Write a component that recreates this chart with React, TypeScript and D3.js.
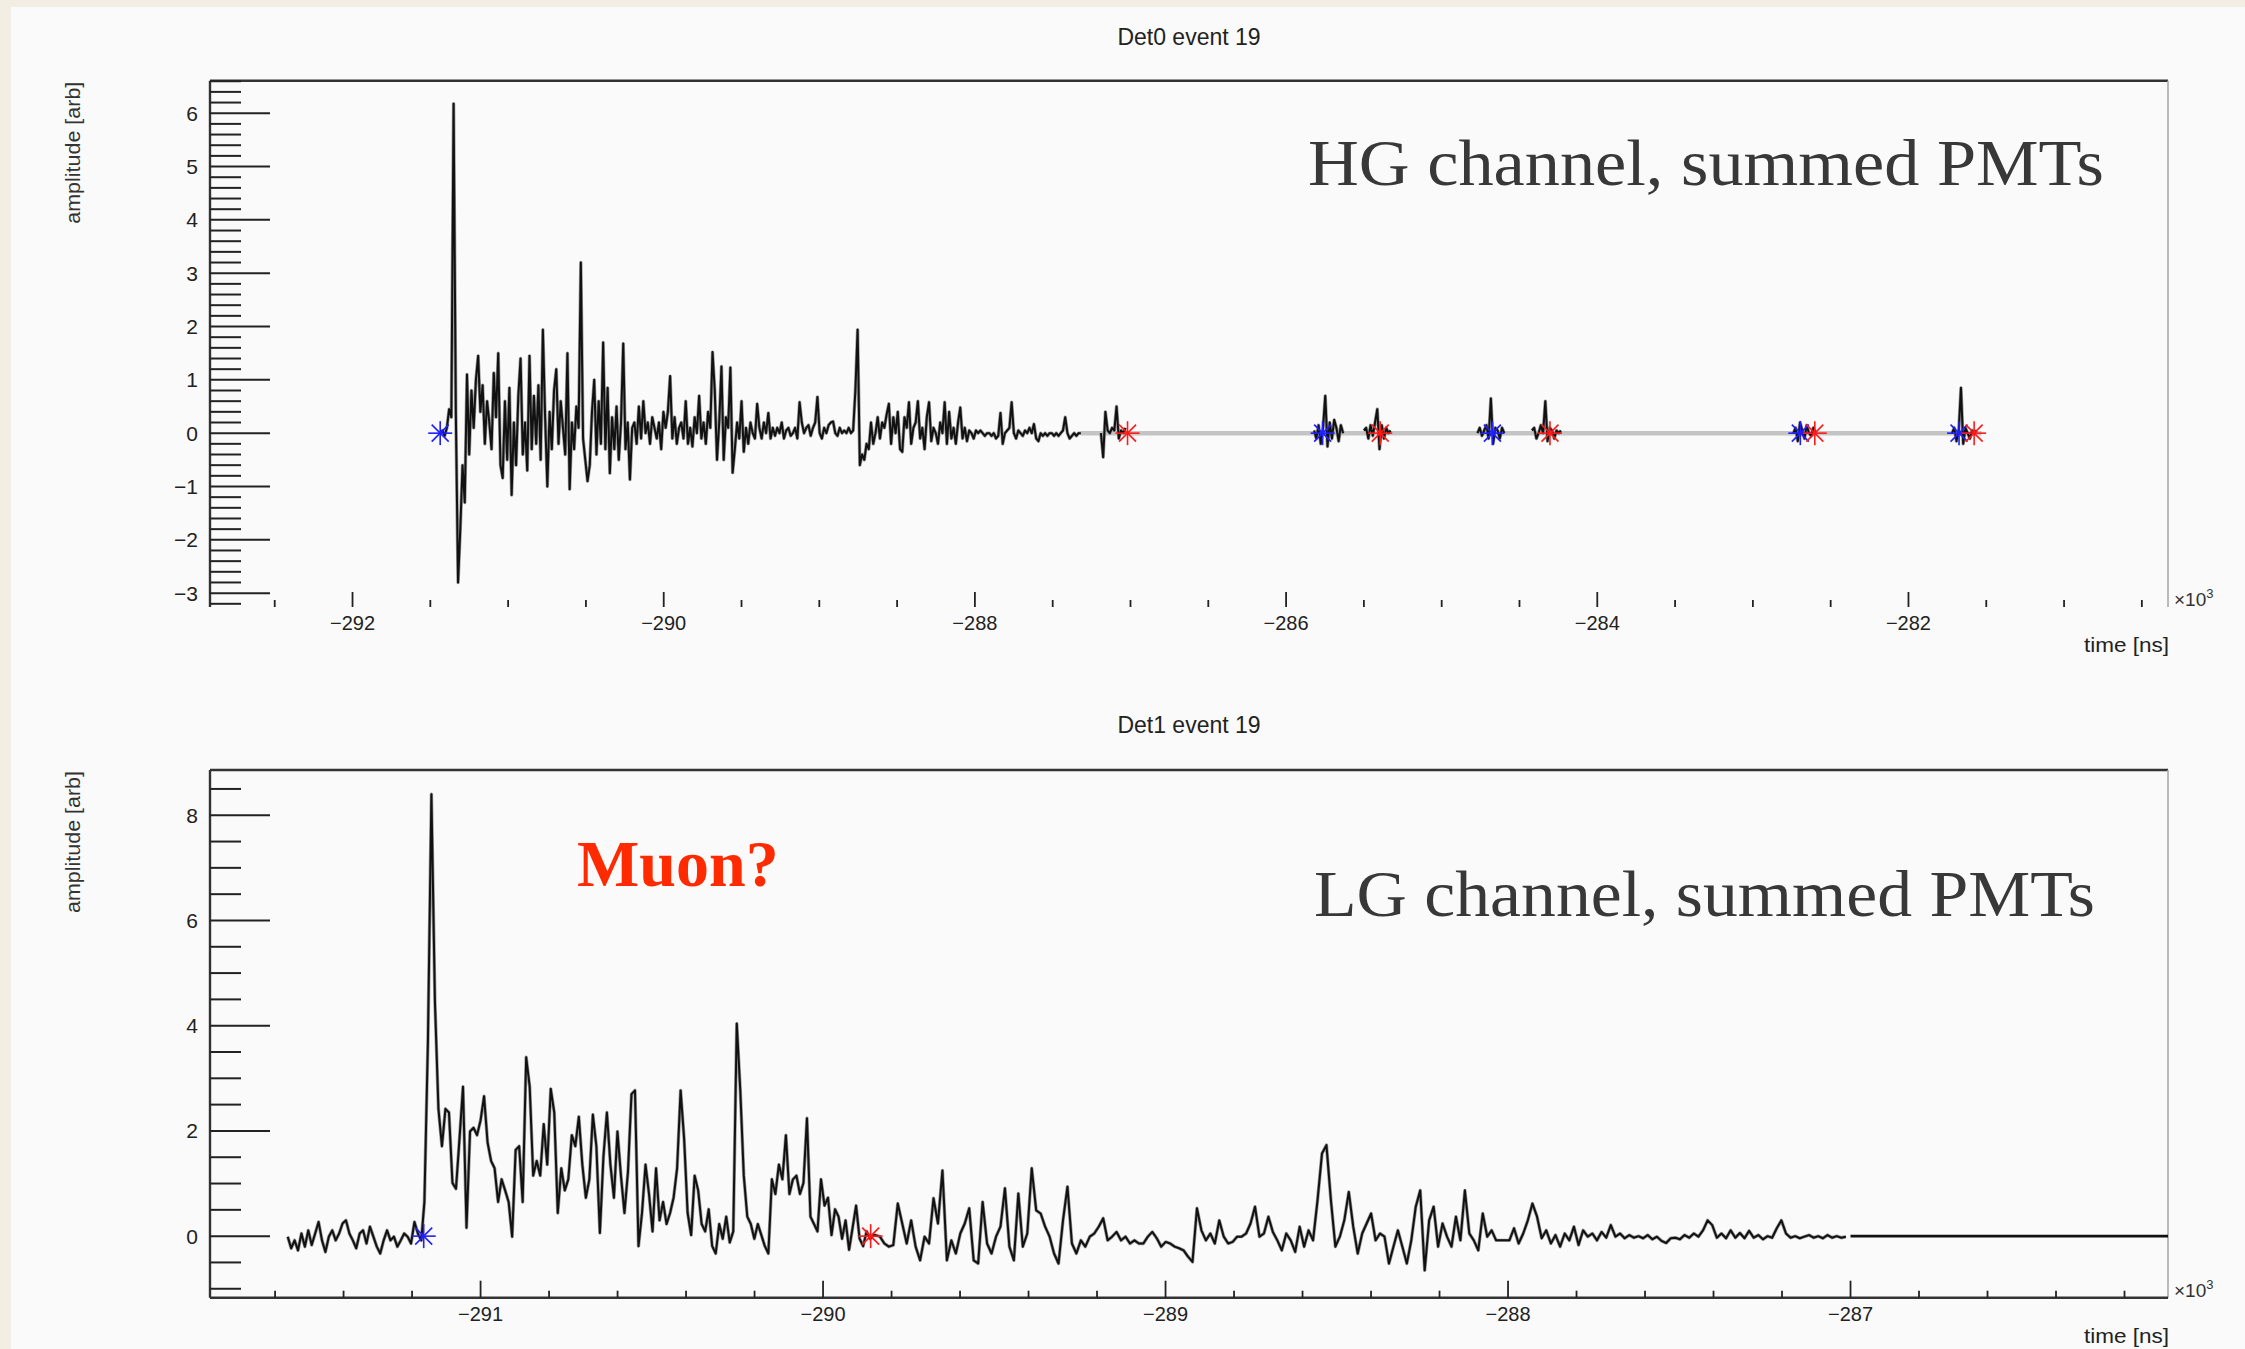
import React from 'react';
import * as d3 from 'd3';

const W = 2245;
const H = 1349;

// ---------- Det0 (HG channel) ----------
const hgT0 = -291.4365; // x10^3 ns
const hgDt = 0.014346;
const hgMain = [
  0, 0.05, -0.05, 0.1, 0.45, 0.3, 6.18, 0.4, -2.8, -1.8, -0.6, -1.3, 1.1, -0.4, 0.8, 0.1, 1.0, 1.45, 0.4, 0.9,
  -0.2, 0.6, 0.2, -0.3, 1.13, 0.3, 1.5, -0.6, -0.84, 0.6, -0.5, 0.85, -1.16, 0.2, -0.6, 0.7, 1.4, -0.4, 0.2, -0.7,
  1.45, -0.3, 0.7, -0.2, 0.9, -0.5, 1.94, 0.3, -1.0, 0.4, -0.3, 0.8, 1.2, -0.2, 0.6, 0.1, -0.4, 1.5, -1.05, 0.2,
  -0.3, 0.5, 0.1, 3.2, -0.1, -0.5, -0.9, -0.6, 0.4, 1.0, -0.4, 0.6, -0.2, 1.7, -0.3, 0.85, -0.75, 0.3, -0.3, 0.5,
  -0.5, 0.2, 1.68, -0.3, 0.2, -0.87, 0.1, 0.2, -0.2, 0.5, -0.1, 0.6, 0.0, 0.2, -0.2, 0.3, 0.1, -0.1, 0.2, -0.3,
  0.4, 0.1, 0.4, 1.07, -0.1, 0.3, -0.2, 0.1, 0.2, -0.1, 0.6, -0.2, 0.1, -0.25, 0.3, 0.0, 0.7, -0.1, 0.2, -0.2,
  0.4, 0.1, 1.52, 0.8, -0.5, 0.2, 1.25, -0.5, 0.3, 0.1, 1.23, -0.74, -0.3, 0.2, -0.1, 0.6, -0.35, 0.1, -0.2, 0.2,
  0.0, -0.1, 0.55, 0.1, -0.1, 0.2, 0.0, 0.38, -0.1, 0.1, -0.05, 0.1, 0.0, 0.2, -0.1, 0.05, 0.1, -0.05, 0.0, 0.1,
  -0.1, 0.58, 0.2, 0.0, 0.1, 0.15, -0.05, 0.1, 0.2, 0.68, 0.0, -0.1, 0.1, 0.0, 0.15, 0.2, 0.22, 0.0, -0.05, 0.1,
  0.0, 0.05, 0.0, 0.1, 0.0, 0.05, 0.8, 1.94, -0.6, -0.4, -0.5, -0.2, -0.3, 0.2, -0.2, 0.0, 0.3, -0.1, 0.2, 0.1,
  0.35, 0.55, -0.2, 0.3, 0.0, 0.4, -0.3, -0.35, 0.3, 0.1, 0.58, -0.2, 0.1, 0.2, 0.6, -0.1, 0.1, -0.3, 0.3, 0.58,
  -0.15, 0.1, 0.0, -0.2, 0.2, 0.0, 0.58, -0.2, 0.4, -0.1, 0.1, -0.2, 0.2, 0.48, -0.1, 0.1, -0.15, 0.05, 0.0, -0.1,
  0.05, 0.0, 0.05, 0.0, -0.05, 0.0, 0.0, -0.05, 0.0, -0.1, -0.05, 0.38, -0.2, 0.0, 0.05, 0.1, 0.58, 0.0, -0.1, 0.05,
  0.0, -0.05, 0.05, 0.0, 0.1, 0.0, 0.17, -0.1, -0.15, 0.0, -0.05, 0.0, -0.05, 0.0, 0.0, -0.05, 0.0, -0.05, 0.0, 0.05,
  0.3, 0.0, -0.1, -0.05, 0.0, -0.05, 0.0, 0.0,
];
const hgBurstStarts = [-287.19, -285.82, -285.5, -284.77, -284.42, -282.74, -281.72];
const hgBurst1 = [0, -0.45, 0.4, 0.05, 0.0, 0.1, 0.05, 0.5, -0.1, 0.05, 0.0, 0.1];
const hgBurst2 = [0.05, -0.1, 0.15, -0.2, 0.1, 0.7, -0.25, 0.2, -0.1, 0.25, 0.1, -0.15, 0.15, 0.0];
const hgBurst3 = [0.05, 0.1, -0.1, 0.15, -0.05, 0.2, 0.45, -0.3, 0.15, -0.1, 0.1, 0.0, 0.05];
const hgBurst4 = [0.0, 0.1, -0.05, 0.05, 0.15, -0.1, 0.65, -0.2, 0.1, 0.05, -0.1, 0.1, 0.0];
const hgBurst5 = [0.05, 0.1, -0.1, 0.0, 0.15, 0.0, 0.6, -0.15, 0.1, 0.05, -0.1, 0.05, 0.0, 0.05];
const hgBurst6 = [0.0, 0.1, -0.15, 0.2, 0.05, -0.1, 0.15, 0.0, -0.05, 0.1, 0.0];
const hgBurst7 = [0.0, 0.1, -0.15, 0.05, 0.85, -0.2, 0.1, 0.0, -0.1, 0.05, 0.0, 0.05];
const hgBursts = [hgBurst1, hgBurst2, hgBurst3, hgBurst4, hgBurst5, hgBurst6, hgBurst7];
const hgGrayBaseline = [-287.32, -281.53];
const hgStartMarks = [-291.4365, -285.765, -284.674, -282.695, -281.675];
const hgStopMarks = [-287.019, -285.395, -284.304, -282.602, -281.578];

// ---------- Det1 (LG channel) ----------
const lgPreT0 = -291.563;
const lgPreDt = 0.01;
const lgPre = [
  -0.01, -0.23, -0.08, -0.27, 0.05, -0.2, 0.11, -0.17, 0.05, 0.27, -0.08, -0.3, -0.01, 0.11, -0.08, 0.05, 0.24, 0.3, 0.05, -0.08,
  -0.23, 0.05, 0.11, -0.14, 0.18, -0.01, -0.2, -0.33, -0.08, 0.11, -0.08, -0.01, -0.2, -0.08, 0.05, -0.01, -0.14, 0.27, 0.05, -0.08,
];
const lgMainT0 = -291.164;
const lgMainDt = 0.010248;
const lgMain = [
  0.65, 3.68, 8.4, 4.46, 2.42, 1.71, 2.42, 2.35, 1.01, 0.9, 1.85, 2.84, 0.16, 1.99, 2.06, 1.92, 2.2, 2.66, 1.78, 1.43,
  1.29, 0.65, 1.08, 0.87, 0.65, -0.01, 1.64, 1.71, 0.65, 3.4, 2.84, 1.15, 1.43, 1.15, 2.13, 1.36, 2.8, 2.35, 0.44, 1.29,
  0.87, 1.08, 1.92, 1.71, 2.27, 1.36, 0.73, 1.08, 2.31, 1.71, 0.06, 1.5, 2.35, 1.36, 0.73, 1.99, 1.15, 0.44, 1.22, 2.7,
  2.77, -0.19, 0.44, 1.36, 0.8, 0.09, 1.29, 0.3, 0.65, 0.23, 0.44, 0.73, 1.29, 2.77, 1.85, 0.44, 0.02, 1.15, 0.87, 0.23,
  0.09, 0.51, -0.19, -0.33, 0.23, -0.05, 0.37, -0.12, 0.09, 4.04, 2.77, 1.15, 0.37, 0.23, -0.05, 0.23, 0.02, -0.19, -0.33, 1.08,
  0.8, 1.36, 1.08, 1.92, 0.8, 1.08, 1.15, 0.8, 1.01, 2.24, 0.37, 0.23, 0.09, 1.08, 0.58, 0.73, 0.02, 0.51, 0.37, -0.05,
  0.3, -0.26, 0.16, 0.58, -0.05, -0.19, 0.09, -0.05, 0.02,
];
const lgMidT0 = -289.847;
const lgMidDt = 0.013038;
const lgMid = [
  0.02, -0.01, -0.14, -0.2, -0.17, 0.62, 0.24, -0.14, 0.3, -0.2, -0.46, -0.01, -0.14, 0.72, 0.24, 1.25, -0.46, -0.08, -0.33, 0.05,
  0.24, 0.53, -0.46, -0.52, 0.65, -0.14, -0.33, -0.01, 0.18, 0.91, -0.2, -0.46, 0.81, -0.2, 0.05, 1.29, 0.49, 0.43, 0.18, -0.01,
  -0.33, -0.52, 0.3, 0.94, -0.14, -0.33, -0.08, -0.2, -0.01, 0.05, 0.18, 0.34, -0.08, -0.01, 0.08, -0.08, -0.01, -0.14, -0.08, -0.14,
  -0.14, -0.01, 0.08, -0.04, -0.2, -0.11, -0.14, -0.2, -0.23, -0.27, -0.39, -0.49, 0.53, 0.11, -0.08, 0.05, -0.14, 0.3, -0.01, -0.14,
  -0.11, -0.01, -0.01, 0.05, 0.24, 0.56, -0.01, 0.05, 0.37, 0.08, -0.08, -0.27, 0.05, -0.08, -0.3, 0.18, -0.2, 0.11, -0.08, 0.68,
  1.57, 1.73, 0.68, -0.2, -0.01, 0.3, 0.84, 0.18, -0.33, 0.05, 0.24, 0.43, -0.08, 0.05, -0.01, -0.52, -0.2, 0.11, -0.2, -0.52,
  -0.08, 0.56, 0.87, -0.65, 0.3, 0.56, -0.2, 0.24, -0.01, -0.2, 0.37, -0.08, 0.87, 0.05, -0.08, -0.27, 0.43, -0.01, 0.11, -0.08,
];
const lgTailT0 = -287.996;
const lgTailDt = 0.01346;
const lgTail = [
  -0.08, 0.15, -0.14, 0.05, 0.3, 0.62, 0.37, -0.04, 0.11, -0.14, 0.02, -0.2, 0.05, -0.08, 0.18, -0.17, 0.11, -0.01, 0.05, -0.08,
  0.08, -0.03, 0.21, -0.01, 0.05, -0.04, 0.02, -0.03, 0, -0.04, 0.02, -0.06, -0.01, -0.09, -0.13, -0.04, -0.03, -0.06, 0.02, -0.03,
  0.05, -0.01, 0.11, 0.3, 0.21, -0.03, 0.05, -0.04, 0.11, -0.03, 0.06, -0.04, 0.1, -0.03, 0.02, -0.06, 0, -0.03, 0.15, 0.3,
  0.05, -0.03, 0, -0.04, -0.01, 0.02, -0.03, 0, -0.04, 0.02, -0.03, 0, -0.03, -0.01,
];
const lgFlat = [-287.0, -286.073];
const lgStartMarks = [-291.166];
const lgStopMarks = [-289.861];

// ---------- axes ----------
const topXMajor = [-292, -290, -288, -286, -284, -282];
const topYMajor = [-3, -2, -1, 0, 1, 2, 3, 4, 5, 6];
const botXMajor = [-291, -290, -289, -288, -287];
const botYMajor = [0, 2, 4, 6, 8];

const seg = (t0: number, dt: number, vals: number[]) => vals.map((v, i) => [t0 + i * dt, v] as [number, number]);
const fmt = (v: number) => (v < 0 ? '\u2212' + Math.abs(v) : String(v));

const AX_FONT = 'Liberation Sans, Arial, Helvetica, sans-serif';
const SERIF = 'Liberation Serif, Times New Roman, serif';

function Star({ x, y, color }: { x: number; y: number; color: string }) {
  const r = 12;
  const d = 8.5;
  return (
    <g stroke={color} strokeWidth={1.6}>
      <line x1={x - r} y1={y} x2={x + r} y2={y} />
      <line x1={x} y1={y - r} x2={x} y2={y + r} />
      <line x1={x - d} y1={y - d} x2={x + d} y2={y + d} />
      <line x1={x - d} y1={y + d} x2={x + d} y2={y - d} />
    </g>
  );
}

function Trace({ d }: { d: string }) {
  return (
    <g fill="none" strokeLinejoin="round">
      <path d={d} stroke="#9a9a9a" strokeWidth={3.4} />
      <path d={d} stroke="#111" strokeWidth={2} />
    </g>
  );
}

function Frame({ x, y, left, right, top, bottom, xMajor, xMinorStep, yMajor, yMinorStep, xMaj, xMin, drawBottom }: any) {
  const [d0, d1] = x.domain();
  const [y0, y1] = y.domain();
  const xMinor = d3.range(Math.ceil(d0 / xMinorStep) * xMinorStep, d1, xMinorStep).filter((v: number) => !xMajor.some((m: number) => Math.abs(m - v) < 1e-6));
  const yMinor = d3.range(Math.ceil(y0 / yMinorStep) * yMinorStep, y1, yMinorStep).filter((v: number) => !yMajor.some((m: number) => Math.abs(m - v) < 1e-6));
  return (
    <g>
      <line x1={left} y1={top} x2={right} y2={top} stroke="#333" strokeWidth={2.4} />
      <line x1={left} y1={top} x2={left} y2={bottom} stroke="#333" strokeWidth={2.4} />
      <line x1={right} y1={top} x2={right} y2={bottom} stroke="#aaa" strokeWidth={1.6} />
      {drawBottom && <line x1={left} y1={bottom} x2={right} y2={bottom} stroke="#333" strokeWidth={2.6} />}
      {yMajor.map((v: number) => (
        <line key={'ym' + v} x1={left} x2={left + 60} y1={y(v)} y2={y(v)} stroke="#222" strokeWidth={2} />
      ))}
      {yMinor.map((v: number) => (
        <line key={'yn' + v} x1={left} x2={left + 31} y1={y(v)} y2={y(v)} stroke="#222" strokeWidth={2} />
      ))}
      {xMajor.map((v: number) => (
        <line key={'xm' + v} x1={x(v)} x2={x(v)} y1={bottom} y2={bottom - xMaj} stroke="#222" strokeWidth={1.8} />
      ))}
      {xMinor.map((v: number) => (
        <line key={'xn' + v} x1={x(v)} x2={x(v)} y1={bottom} y2={bottom - xMin} stroke="#222" strokeWidth={1.8} />
      ))}
      {yMajor.map((v: number) => (
        <text key={'yl' + v} x={left - 12} y={y(v)} dy="0.36em" textAnchor="end" fontSize={21} fontFamily={AX_FONT} fill="#222">
          {fmt(v)}
        </text>
      ))}
      {xMajor.map((v: number) => (
        <text key={'xl' + v} x={x(v)} y={bottom + 23} textAnchor="middle" fontSize={20} fontFamily={AX_FONT} fill="#222">
          {fmt(v)}
        </text>
      ))}
      <text x={right + 6} y={bottom - 1} fontSize={19} fontFamily={AX_FONT} fill="#333">
        {'\u00d710'}
        <tspan dy={-8} fontSize={13}>3</tspan>
      </text>
      <text x={right + 1} y={bottom + 45} textAnchor="end" fontSize={21} fontFamily={AX_FONT} fill="#222" textLength={85} lengthAdjust="spacingAndGlyphs">
        time [ns]
      </text>
      <text transform={`translate(80,${top + 1}) rotate(-90)`} textAnchor="end" fontSize={20} fontFamily={AX_FONT} fill="#333" textLength={142} lengthAdjust="spacingAndGlyphs">
        amplitude [arb]
      </text>
    </g>
  );
}

export default function App() {
  const left = 210;
  const right = 2168;

  const xTop = d3.scaleLinear().domain([-292.916, -280.332]).range([left, right]);
  const yTop = d3.scaleLinear().domain([-3.26, 6.61]).range([607, 80.7]);
  const xBot = d3.scaleLinear().domain([-291.79, -286.073]).range([left, right]);
  const yBot = d3.scaleLinear().domain([-1.17, 8.86]).range([1297.7, 770]);

  const lineTop = d3.line<[number, number]>().x((d) => xTop(d[0])).y((d) => yTop(d[1]));
  const lineBot = d3.line<[number, number]>().x((d) => xBot(d[0])).y((d) => yBot(d[1]));

  const hgPts = seg(hgT0, hgDt, hgMain);
  const hgBurstPts = hgBursts.map((b, i) => seg(hgBurstStarts[i], hgDt, b));
  const lgPts = [
    ...seg(lgPreT0, lgPreDt, lgPre),
    ...seg(lgMainT0, lgMainDt, lgMain),
    ...seg(lgMidT0, lgMidDt, lgMid),
    ...seg(lgTailT0, lgTailDt, lgTail),
  ];

  return (
    <div style={{ position: 'absolute', left: 0, top: 0 }}>
      <svg width={W} height={H} viewBox={`0 0 ${W} ${H}`} style={{ display: 'block' }}>
        <rect x={0} y={0} width={W} height={H} fill="#f2eee4" />
        <rect x={11} y={7} width={W - 11} height={H - 7} fill="#fafafa" />

        {/* ---------- top panel ---------- */}
        <text x={1189} y={45} textAnchor="middle" fontSize={23} fontFamily={AX_FONT} fill="#222">
          Det0 event 19
        </text>
        <Frame
          x={xTop} y={yTop} left={left} right={right} top={80.7} bottom={607}
          xMajor={topXMajor} xMinorStep={0.5} yMajor={topYMajor} yMinorStep={0.2}
          xMaj={15} xMin={7} drawBottom={false}
        />
        <line
          x1={xTop(hgGrayBaseline[0])} x2={xTop(hgGrayBaseline[1])} y1={yTop(0)} y2={yTop(0)}
          stroke="#c4c4c4" strokeWidth={4.5}
        />
        <Trace d={lineTop(hgPts) || ''} />
        {hgBurstPts.map((p, i) => (
          <Trace key={'b' + i} d={lineTop(p) || ''} />
        ))}
        {hgStartMarks.map((t, i) => <Star key={'hs' + i} x={xTop(t)} y={yTop(0)} color="#1f1fff" />)}
        {hgStopMarks.map((t, i) => <Star key={'he' + i} x={xTop(t)} y={yTop(0)} color="#ff1a1a" />)}
        <text x={1308} y={185} fontSize={66} fontFamily={SERIF} fill="#383838" textLength={796} lengthAdjust="spacingAndGlyphs">
          HG channel, summed PMTs
        </text>

        {/* ---------- bottom panel ---------- */}
        <text x={1189} y={733} textAnchor="middle" fontSize={23} fontFamily={AX_FONT} fill="#222">
          Det1 event 19
        </text>
        <Frame
          x={xBot} y={yBot} left={left} right={right} top={770} bottom={1297.7}
          xMajor={botXMajor} xMinorStep={0.2} yMajor={botYMajor} yMinorStep={0.5}
          xMaj={17} xMin={7} drawBottom={true}
        />
        <Trace d={lineBot(lgPts) || ''} />
        <line x1={xBot(lgFlat[0])} x2={xBot(lgFlat[1])} y1={yBot(0)} y2={yBot(0)} stroke="#111" strokeWidth={2.8} />
        {lgStartMarks.map((t, i) => <Star key={'ls' + i} x={xBot(t)} y={yBot(0)} color="#1f1fff" />)}
        {lgStopMarks.map((t, i) => <Star key={'le' + i} x={xBot(t)} y={yBot(0)} color="#ff1a1a" />)}
        <text x={577} y={886} fontSize={66} fontWeight="bold" fontFamily={SERIF} fill="#ff2a00">
          Muon?
        </text>
        <text x={1314} y={916} fontSize={66} fontFamily={SERIF} fill="#383838" textLength={781} lengthAdjust="spacingAndGlyphs">
          LG channel, summed PMTs
        </text>
      </svg>
    </div>
  );
}
